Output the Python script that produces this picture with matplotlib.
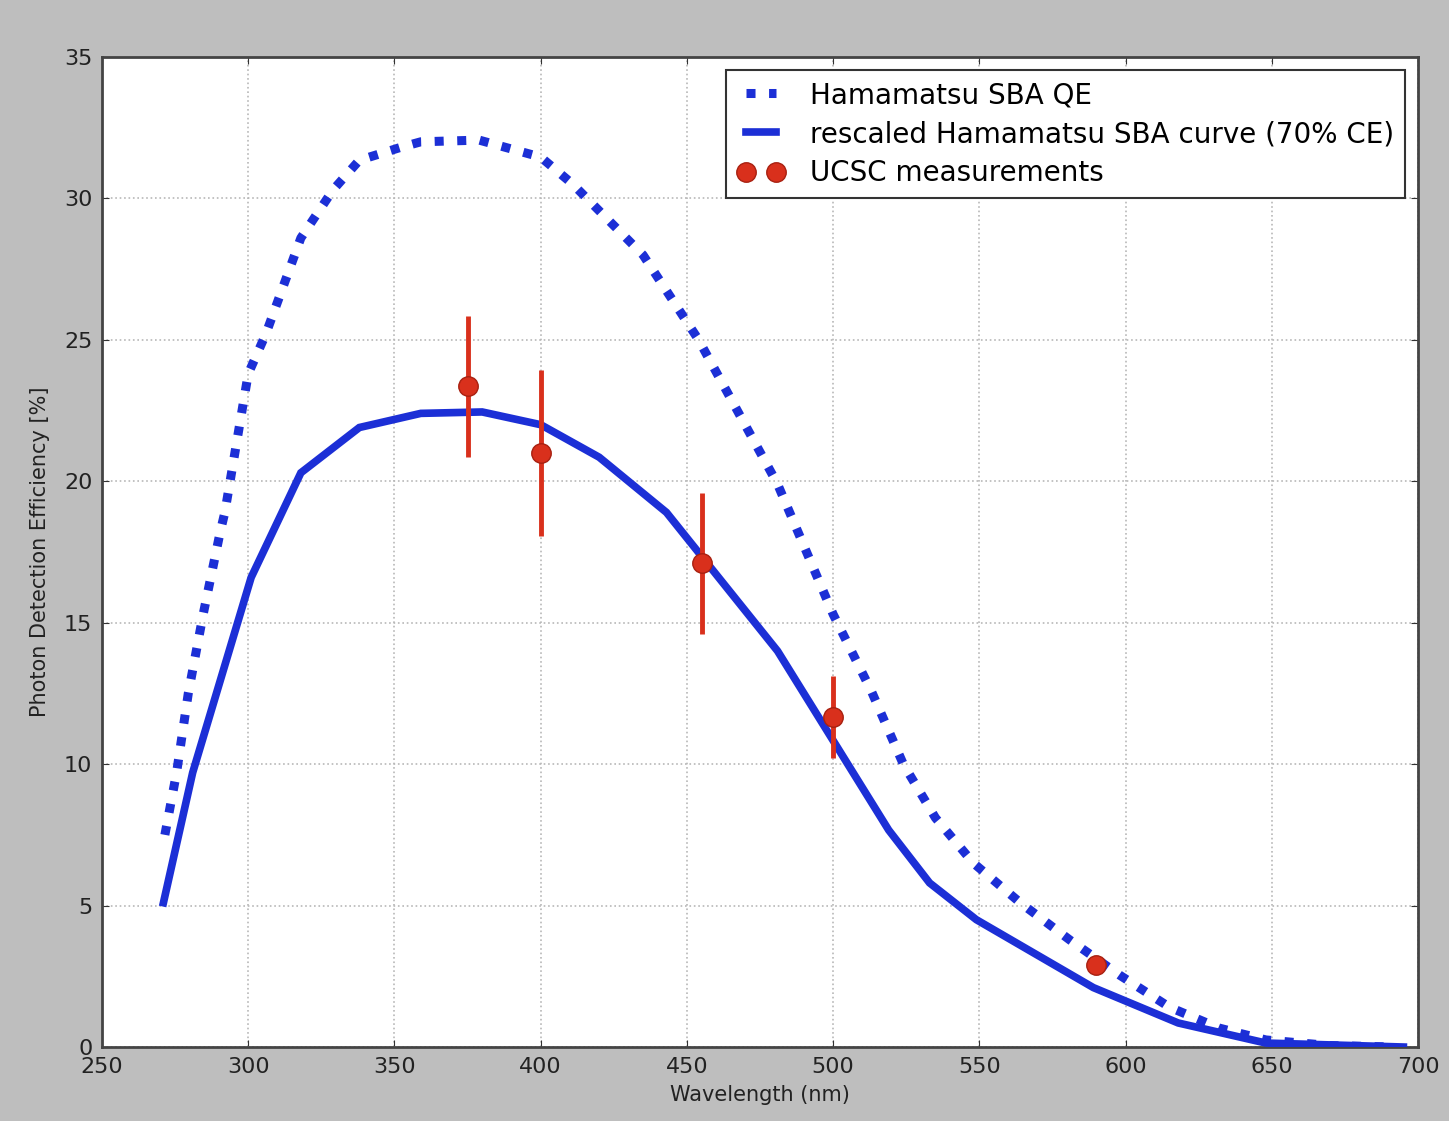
import matplotlib
matplotlib.use('Agg')
import matplotlib.pyplot as plt

plt.rcParams.update({
    'font.family': 'DejaVu Sans',
    'font.size': 15,
    'xtick.labelsize': 16,
    'ytick.labelsize': 16,
    'axes.labelsize': 15,
    'legend.fontsize': 20,
})

# Hamamatsu SBA QE (dotted)
qe_wl = [271.5, 275.5, 279.5, 284.6, 290.4, 292, 300, 306, 318, 329, 338, 352, 359,
         379, 400, 411, 435, 454, 481, 500, 513, 524, 535, 548, 564, 581, 598,
         615, 632, 648, 670, 692]
qe_val = [7.5, 9.7, 12.5, 15.3, 18.2, 18.9, 23.8, 25.2, 28.6, 30.3, 31.35, 31.8, 32.0,
          32.06, 31.46, 30.5, 28.0, 25.0, 19.9, 15.3, 12.6, 10.0, 8.1, 6.5, 5.1, 3.78,
          2.54, 1.41, 0.67, 0.25, 0.05, 0.0]

# rescaled curve (70% CE, solid)
pde_wl = [271, 281, 301, 318, 338, 359, 380, 400, 420, 443, 481, 519, 533, 549,
          589, 618, 648, 695]
pde_val = [5.1, 9.7, 16.6, 20.3, 21.9, 22.4, 22.45, 22.0, 20.85, 18.9, 14.0, 7.67,
           5.8, 4.5, 2.1, 0.85, 0.14, 0.0]

# UCSC measurements
meas_wl = [375, 400, 455, 500, 590]
meas_val = [23.35, 21.0, 17.1, 11.65, 2.9]
meas_err = [2.5, 2.95, 2.5, 1.45, 0.0]

BLUE = '#1c2fd6'
RED = '#d9301c'

fig = plt.figure(figsize=(14.49, 11.21), dpi=100, facecolor='#bebebe')
ax = fig.add_axes([0.0704, 0.0660, 0.9082, 0.8832])
ax.set_facecolor('white')

ax.plot(qe_wl, qe_val, color=BLUE, lw=6.5, linestyle=(0, (1, 1.5)),
        dash_capstyle='butt', label='Hamamatsu SBA QE', zorder=3)
ax.plot(pde_wl, pde_val, color=BLUE, lw=5.5, solid_joinstyle='miter',
        label='rescaled Hamamatsu SBA curve (70% CE)', zorder=3)
ax.errorbar(meas_wl, meas_val, yerr=meas_err, fmt='none', ecolor=RED,
            elinewidth=3.5, capsize=0, zorder=4)
ax.plot(meas_wl, meas_val, 'o', color=RED, ms=14, mec='#a82010', mew=1,
        label='UCSC measurements', zorder=5)

ax.set_xlim(250, 700)
ax.set_ylim(0, 35)
ax.set_xticks(range(250, 701, 50))
ax.set_yticks(range(0, 36, 5))
ax.grid(True, linestyle=':', color='#b8b8b8', lw=1.2)
ax.tick_params(direction='in', top=True, right=True, length=5, pad=7,
               colors='#333333', labelcolor='#222222')
for s in ax.spines.values():
    s.set_color('#444444')
    s.set_linewidth(2)

ax.set_xlabel('Wavelength (nm)', labelpad=6, color='#222222')
ax.set_ylabel('Photon Detection Efficiency [%]', labelpad=10, color='#222222')

leg = ax.legend(loc='upper right', bbox_to_anchor=(0.9901, 0.9869),
                borderaxespad=0, numpoints=2, fancybox=False,
                edgecolor='#333333', framealpha=1, handlelength=1.7,
                labelspacing=0.4, borderpad=0.4, handletextpad=0.9)
leg.get_frame().set_linewidth(1.5)

fig.savefig('out.png', dpi=100, facecolor=fig.get_facecolor())
